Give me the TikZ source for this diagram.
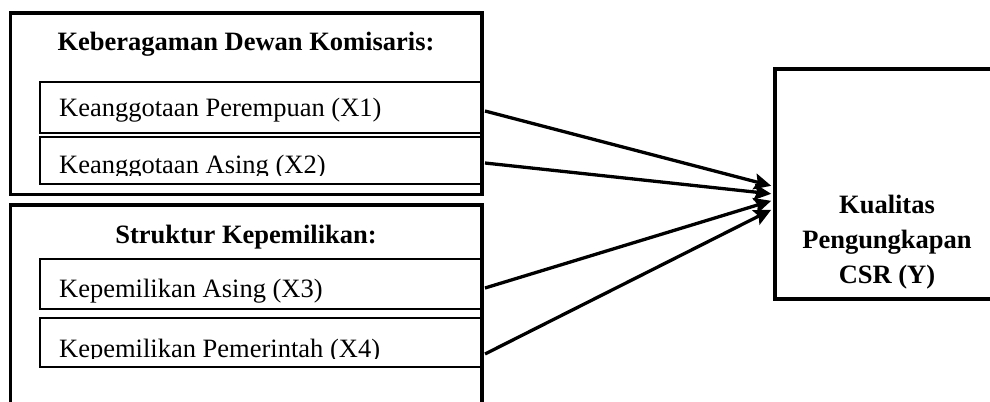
\documentclass[tikz,border=0pt]{standalone}
\usepackage{fontspec}
\setmainfont{Liberation Serif}
\usetikzlibrary{arrows.meta,calc}
\tikzset{
  outerline/.style={line width=3.6bp},
  innerbox/.style={draw, line width=2bp, anchor=north west, inner sep=0pt, minimum width=443bp},
  ybox/.style={draw, line width=3.6bp, anchor=north west, inner sep=0pt, minimum width=216.5bp, minimum height=230bp},
  itemtext/.style={anchor=base west, inner sep=0pt, font=\fontsize{26.5bp}{32bp}\selectfont},
  headtext/.style={anchor=base, inner sep=0pt, font=\fontsize{26.5bp}{32bp}\selectfont\bfseries},
  arr/.style={line width=3.3bp, -{Stealth[length=17bp,width=16bp,inset=3bp]}}
}
\begin{document}
\begin{tikzpicture}[x=1bp,y=-1bp]
\useasboundingbox (0,0) rectangle (990,401);
\clip (0,0) rectangle (990,401);
\fill[white] (0,0) rectangle (990,401);

% outer group 1
\draw[outerline] (10.5,13) rectangle (482,194.5);
\node[headtext] (h1) at (246,50) {Keberagaman Dewan Komisaris:};
\node[innerbox, minimum height=51bp] (x1) at (39,81) {};
\node[innerbox, minimum height=47bp] (x2) at (39,136) {};
\node[itemtext] (t1) at (59,116) {Keanggotaan Perempuan (X1)};
\begin{scope}
  \clip (40,137) rectangle (481,175);
  \node[itemtext] (t2) at (59,173) {Keanggotaan Asing (X2)};
\end{scope}

% outer group 2 (open at the bottom)
\draw[outerline] (10.5,420) -- (10.5,205) -- (482,205) -- (482,420);
\node[headtext] (h2) at (246,243) {Struktur Kepemilikan:};
\node[innerbox, minimum height=50bp] (x3) at (39,258) {};
\node[innerbox, minimum height=49bp] (x4) at (39,317) {};
\node[itemtext] (t3) at (59,297) {Kepemilikan Asing (X3)};
\begin{scope}
  \clip (40,318) rectangle (481,358.5);
  \node[itemtext] (t4) at (59,357) {Kepemilikan Pemerintah (X4)};
\end{scope}

% dependent variable
\node[ybox] (y) at (773,67) {};
\node[headtext] (y1) at (887,213) {Kualitas};
\node[headtext] (y2) at (887,248) {Pengungkapan};
\node[headtext] (y3) at (887,283) {CSR (Y)};

% connectors
\draw[arr] ($(x1.east)+(1,3.5)$) -- ($(y.west)+(-1.8,2)$);
\draw[arr] ($(x2.east)+(1,2.5)$) -- ($(y.west)+(-1.8,10)$);
\draw[arr] ($(x3.east)+(1,4)$) -- ($(y.west)+(-1.8,17)$);
\draw[arr] ($(x4.east)+(1,11.5)$) -- ($(y.west)+(-1.8,26)$);
\end{tikzpicture}
\end{document}
